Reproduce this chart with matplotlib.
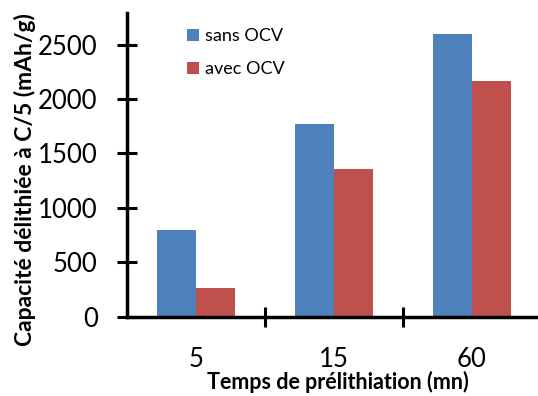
import numpy as np
import matplotlib.pyplot as plt
from matplotlib.ticker import FixedLocator

plt.rcParams['font.family'] = ['Lato', 'DejaVu Sans']

categories = ['5', '15', '60']
sans_ocv = [797, 1773, 2598]
avec_ocv = [267, 1361, 2170]
y_ticks = [0, 500, 1000, 1500, 2000, 2500]

fig = plt.figure(figsize=(5.38, 3.96), dpi=100)
ax = fig.add_axes([126.7 / 538, 1 - 316.7 / 396, (537 - 126.7) / 538, (316.7 - 13) / 396])

x = np.arange(len(categories))
w = 0.283
ax.bar(x - w / 2, sans_ocv, w, color='#4F81BD', label='sans OCV')
ax.bar(x + w / 2, avec_ocv, w, color='#C0504D', label='avec OCV')

ax.set_xlim(-0.5, 2.471)
ax.set_ylim(0, 2791)

for s in ['top', 'right']:
    ax.spines[s].set_visible(False)
for s in ['left', 'bottom']:
    ax.spines[s].set_linewidth(2.5)

ax.set_yticks(y_ticks)
ax.set_xticks(x)
ax.set_xticklabels(categories)
ax.xaxis.set_minor_locator(FixedLocator([0.5, 1.5]))
ax.tick_params(axis='y', direction='inout', length=13.7, width=2.2, labelsize=18.5, pad=14)
ax.tick_params(axis='x', which='major', length=0, labelsize=18.5, pad=21.5)
ax.tick_params(axis='x', which='minor', direction='inout', length=14.5, width=2.2)

ax.set_ylabel('Capacité délithiée à C/5 (mAh/g)', fontsize=16.5, fontweight='bold', va='center')
ax.yaxis.set_label_coords(-0.248, 0.45)
ax.set_xlabel('Temps de prélithiation (mn)', fontsize=15.5, fontweight='bold', va='center')
ax.xaxis.set_label_coords(0.515, -0.216)

fig.legend(loc='upper left', bbox_to_anchor=(187 / 538, 1 - 28 / 396), frameon=False,
           fontsize=13, handlelength=0.67, handleheight=0.67, handletextpad=0.3,
           labelspacing=0.95, borderpad=0, borderaxespad=0)

fig.savefig('out.png', dpi=100)
